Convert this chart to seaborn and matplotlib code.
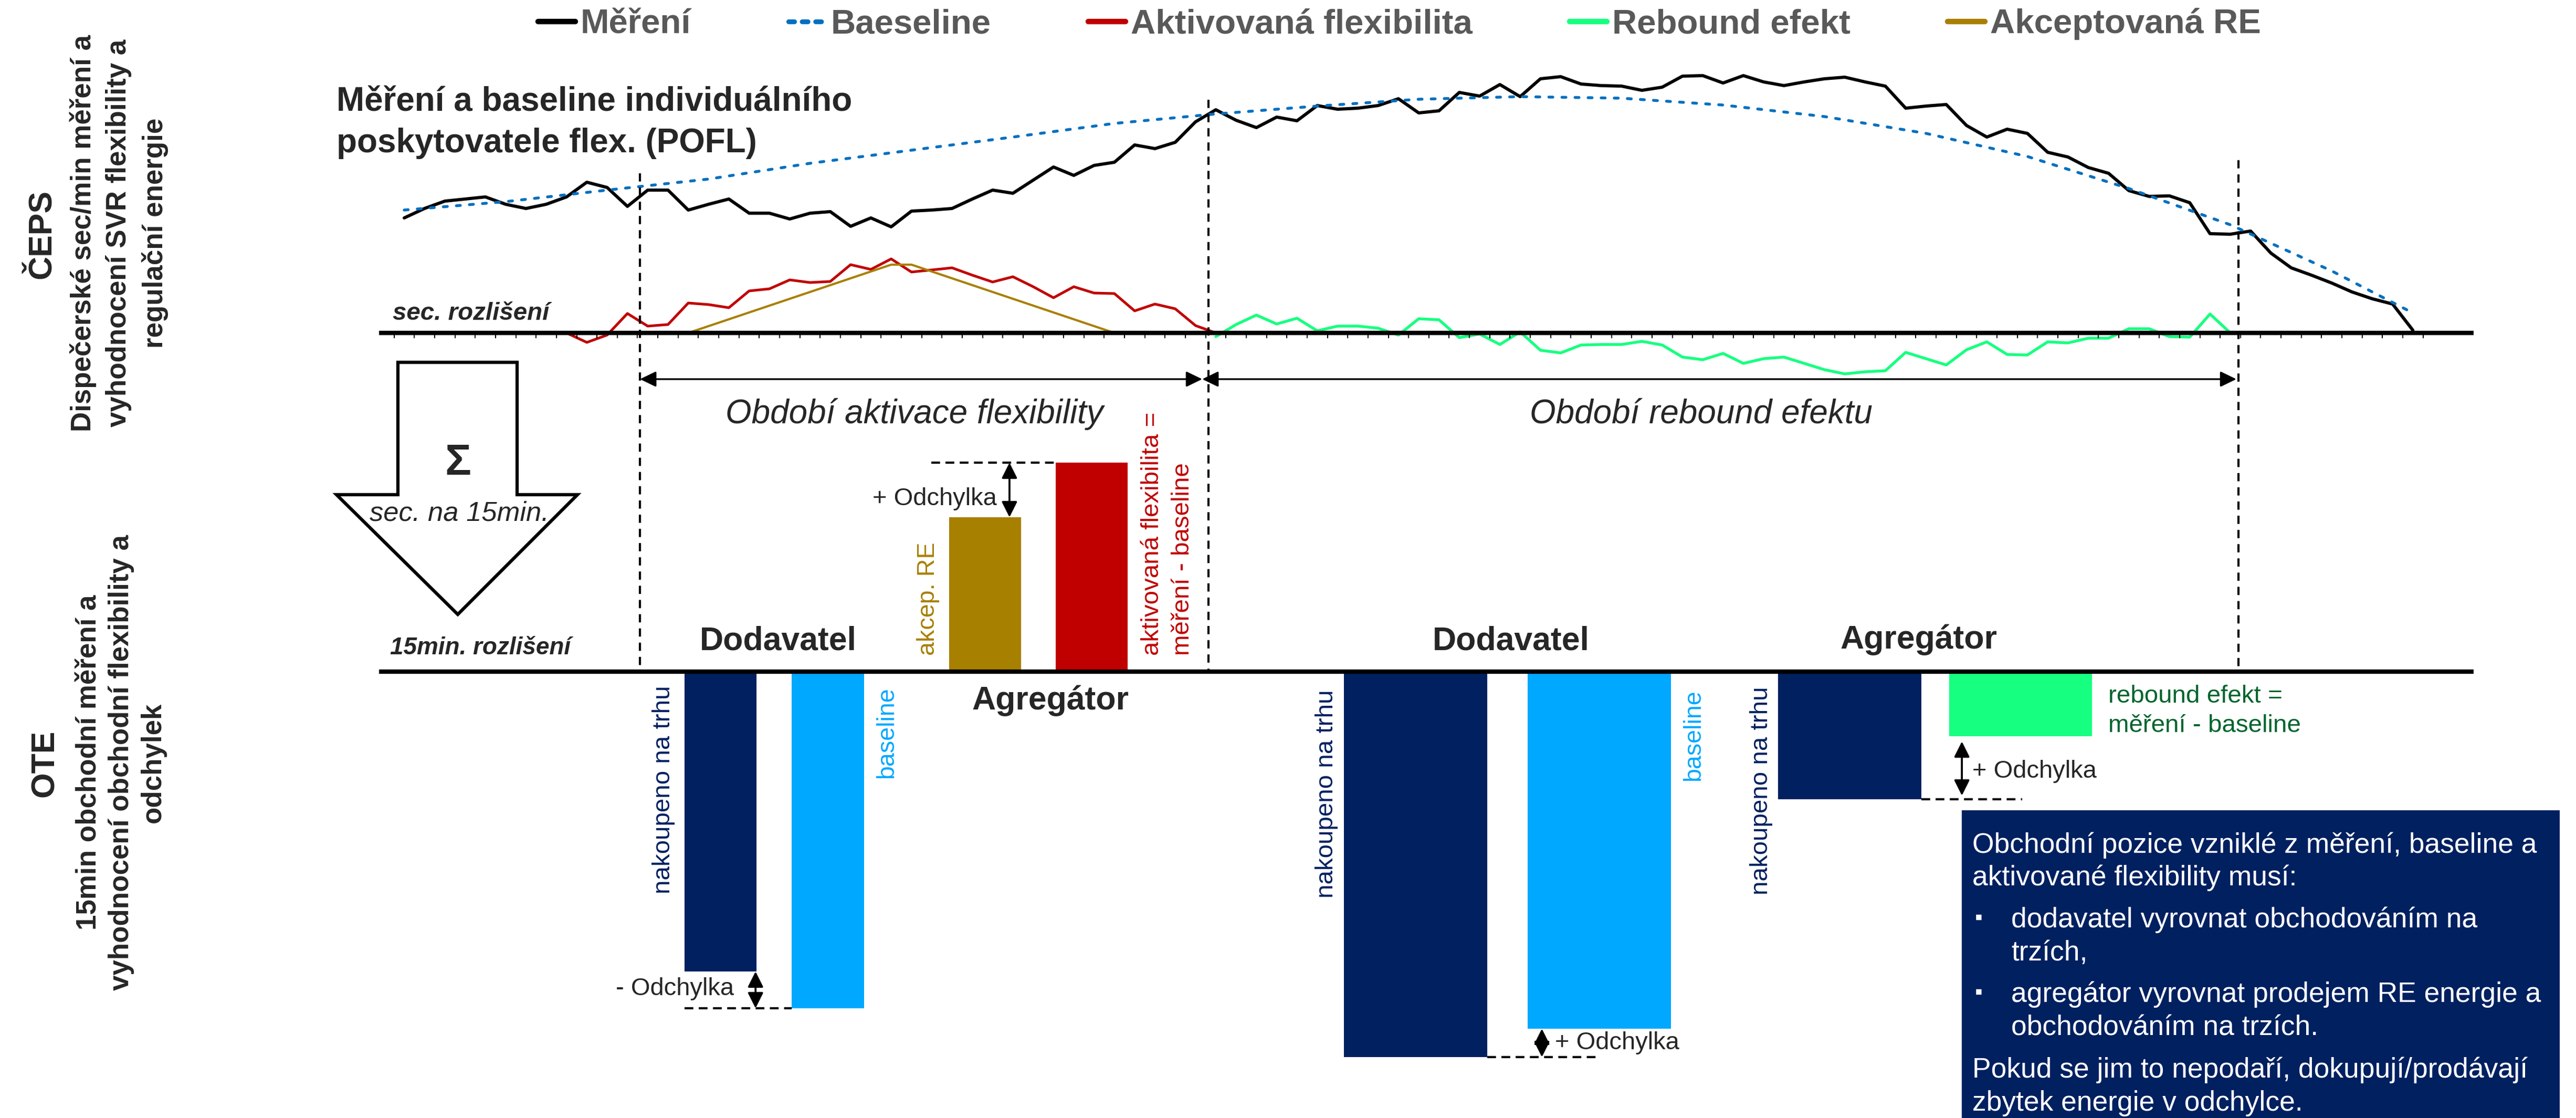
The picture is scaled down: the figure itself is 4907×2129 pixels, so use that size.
import numpy as np
import pandas as pd
import matplotlib
matplotlib.use('Agg')
import matplotlib.pyplot as plt
import matplotlib.patches as mpatches
from matplotlib.lines import Line2D
import seaborn as sns

sns.set_style('white')
plt.rcParams['font.family'] = ['Liberation Sans', 'DejaVu Sans']

## ============================== ##
## data
## ============================== ##

# second-resolution samples, index = sample number
t = np.arange(100)
mereni = [2.19, 2.37, 2.51, 2.55, 2.59, 2.45, 2.37, 2.45, 2.59, 2.87,
          2.77, 2.41, 2.72, 2.72, 2.34, 2.45, 2.55, 2.28, 2.28, 2.17,
          2.28, 2.31, 2.03, 2.19, 2.02, 2.32, 2.34, 2.37, 2.55, 2.72,
          2.66, 2.91, 3.16, 3.00, 3.19, 3.25, 3.58, 3.51, 3.63, 4.02,
          4.25, 4.05, 3.91, 4.11, 4.04, 4.33, 4.26, 4.28, 4.33, 4.46,
          4.19, 4.23, 4.58, 4.51, 4.73, 4.50, 4.84, 4.88, 4.74, 4.71,
          4.70, 4.62, 4.68, 4.89, 4.90, 4.76, 4.90, 4.78, 4.71, 4.78,
          4.84, 4.87, 4.78, 4.70, 4.28, 4.32, 4.35, 3.95, 3.73, 3.88,
          3.80, 3.44, 3.35, 3.15, 3.04, 2.71, 2.60, 2.61, 2.48, 1.89,
          1.88, 1.94, 1.52, 1.24, 1.10, 0.95, 0.78, 0.65, 0.55, 0.05]

baseline_t = [0, 5, 10, 15, 20, 25, 30, 35, 40, 45, 50, 55, 60, 65, 70, 75, 80, 85, 90, 95, 99]
baseline_v = [2.34, 2.50, 2.72, 2.93, 3.23, 3.48, 3.73, 3.99, 4.17, 4.32, 4.45,
              4.50, 4.47, 4.34, 4.12, 3.80, 3.36, 2.75, 2.06, 1.18, 0.38]

flex_t = np.arange(8, 41)
flex_v = [0.00, -0.18, -0.04, 0.37, 0.13, 0.16, 0.57, 0.54, 0.48, 0.80,
          0.84, 1.01, 0.96, 0.98, 1.30, 1.21, 1.41, 1.16, 1.20, 1.24,
          1.10, 0.97, 1.07, 0.88, 0.67, 0.88, 0.76, 0.75, 0.42, 0.55,
          0.46, 0.14, 0.00]

re_t = [14, 24, 25, 35]
re_v = [0.00, 1.30, 1.30, 0.00]

rebound_t = np.arange(40, 91)
rebound_v = [-0.07, 0.16, 0.34, 0.17, 0.28, 0.04, 0.13, 0.13, 0.09, -0.04,
             0.27, 0.25, -0.09, -0.02, -0.22, 0.02, -0.33, -0.38, -0.23, -0.22,
             -0.22, -0.16, -0.23, -0.46, -0.51, -0.39, -0.58, -0.49, -0.46, -0.58,
             -0.70, -0.78, -0.74, -0.72, -0.37, -0.49, -0.61, -0.32, -0.17, -0.41,
             -0.42, -0.17, -0.19, -0.10, -0.10, 0.08, 0.08, -0.07, -0.08, 0.36,
             0.00]

# period boundaries (in samples)
t_start, t_switch, t_end = 11.62, 39.64, 90.4

# 15min aggregates
bar_t = [15.59, 20.88, 28.62, 33.88, 49.84, 58.90, 71.24, 79.67]
bar_len = [3.55, 3.55, 3.55, 3.55, 7.05, 7.05, 7.05, 7.05]
bar_v = [-5.71, -6.41, 2.94, 3.98, -7.34, -6.80, -2.43, -1.23]

legend_labels = ['Měření', 'Baeseline', 'Aktivovaná flexibilita', 'Rebound efekt', 'Akceptovaná RE']

## ============================== ##

NAVY = '#002060'
LBLUE = '#00A8FF'
GOLD = '#A88000'
RED = '#C00000'
GREEN = '#17FF80'
BLUE = '#0070C0'
DGREEN = '#00642D'
GREY = '#595959'

W, H = 4907, 2129
DPI = 300
X0, DX = 770., 38.65      # pixel of sample 0, pixels per sample
Y_SEC, Y_15, SY = 634., 1279., 100.

def P(x, y):
	return (x / W, 1. - y / H)

fig = plt.figure(figsize=(W / DPI, H / DPI), dpi=DPI)

ax = fig.add_axes([0, 0, 1, 1])
axb = fig.add_axes([0, 0, 1, 1])

## ---- seconds resolution
sns.lineplot(x=t, y=mereni, ax=ax, color='black', lw=1.45, sort=False)
sns.lineplot(x=baseline_t, y=baseline_v, ax=ax, color=BLUE, lw=1.3,
		linestyle=(0, (1.4, 3.2)), dash_capstyle='round', sort=False)
sns.lineplot(x=flex_t, y=flex_v, ax=ax, color=RED, lw=1.2, sort=False)
sns.lineplot(x=re_t, y=re_v, ax=ax, color=GOLD, lw=1.0, sort=False)
sns.lineplot(x=rebound_t, y=rebound_v, ax=ax, color=GREEN, lw=1.3, sort=False)

ax.hlines(0, -1.24, 102.0, color='black', lw=2.0)
ax.vlines(np.arange(-0.5, 100, 1.), -0.1, 0, color='black', lw=0.5)

vdash = (0, (3.75, 2.75))
y_bottom = (Y_SEC - Y_15) / SY
for x0, ytop in [(t_start, 3.04), (t_switch, 4.44), (t_end, 3.29)]:
	ax.plot([x0, x0], [ytop, y_bottom], color='black', lw=1.0, linestyle=vdash)

harrow = dict(arrowstyle='<|-|>,head_length=0.31,head_width=0.15', color='black',
		lw=0.8, shrinkA=0, shrinkB=0, mutation_scale=20)
y_arr = (Y_SEC - 722) / SY
ax.annotate('', xy=(t_start, y_arr), xytext=(t_switch - 0.31, y_arr), arrowprops=harrow)
ax.annotate('', xy=(t_switch - 0.31, y_arr), xytext=(t_end - 0.1, y_arr), arrowprops=harrow)

## ---- 15min resolution
bar_colors = [NAVY, LBLUE, GOLD, RED, NAVY, LBLUE, NAVY, GREEN]
axb.bar(bar_t, bar_v, width=bar_len, color=bar_colors, linewidth=0)
axb.hlines(0, -1.24, 102.0, color='black', lw=2.0)

left = [c - w / 2. for c, w in zip(bar_t, bar_len)]
right = [c + w / 2. for c, w in zip(bar_t, bar_len)]
hdash = (0, (4, 2.5))
axb.plot([left[0], left[1]], [bar_v[1], bar_v[1]], color='black', lw=1.0, linestyle=hdash)
axb.plot([25.98, left[3]], [bar_v[3], bar_v[3]], color='black', lw=1.0, linestyle=hdash)
axb.plot([right[4], 58.86], [bar_v[4], bar_v[4]], color='black', lw=1.0, linestyle=hdash)
axb.plot([right[6], 79.74], [bar_v[6], bar_v[6]], color='black', lw=1.0, linestyle=hdash)

varrow = dict(arrowstyle='<|-|>,head_length=0.3,head_width=0.15', color='black',
		lw=0.9, shrinkA=0, shrinkB=0, mutation_scale=20)
axb.annotate('', xy=(right[0] - 0.05, bar_v[0]), xytext=(right[0] - 0.05, bar_v[1]), arrowprops=varrow)
axb.annotate('', xy=(29.83, bar_v[3]), xytext=(29.83, bar_v[2]), arrowprops=varrow)
axb.annotate('', xy=(56.07, bar_v[5]), xytext=(56.07, bar_v[4]), arrowprops=varrow)
axb.annotate('', xy=(76.77, bar_v[7] - 0.1), xytext=(76.77, bar_v[6] + 0.07), arrowprops=varrow)

for a, y0 in [(ax, Y_SEC), (axb, Y_15)]:
	a.set_xlim((0 - X0) / DX, (W - X0) / DX)
	a.set_ylim((y0 - H) / SY, y0 / SY)
	a.axis('off')

## ---- block arrow
arr_pts = [(758, 690), (985, 690), (985, 942), (1100, 942), (872, 1170), (641, 942), (758, 942)]
fig.patches.append(mpatches.Polygon([P(x, y) for x, y in arr_pts], closed=True, facecolor='white',
		edgecolor='black', lw=1.5, transform=fig.transFigure, figure=fig))

## ---- info box
x1, y1 = P(3737, 2129)
x2, y2 = P(4876, 1543)
fig.patches.append(mpatches.Rectangle((x1, y1), x2 - x1, y2 - y1, facecolor=NAVY, edgecolor='none',
		transform=fig.transFigure, figure=fig))

## ---- legend
handles = [Line2D([], [], color='black', lw=2.5),
	Line2D([], [], color=BLUE, lw=2.2, linestyle=(0, (1.2, 1.6)), dash_capstyle='round'),
	Line2D([], [], color=RED, lw=2.5),
	Line2D([], [], color=GREEN, lw=2.5),
	Line2D([], [], color=GOLD, lw=2.5)]
fig.legend(handles, legend_labels, loc='center', bbox_to_anchor=P(2666, 46), ncol=5, frameon=False,
		prop=dict(weight='bold', size=15.7), labelcolor=GREY, handlelength=1.08,
		handletextpad=0.15, columnspacing=2.84, borderpad=0, borderaxespad=0)

## ---- texts
def txt(x, y, s, **kw):
	kw.setdefault('va', 'baseline')
	fig.text(*P(x, y), s, **kw)

def vtxt(x, y, s, **kw):
	kw.setdefault('va', 'baseline')
	fig.text(*P(x, y), s, rotation=90, rotation_mode='anchor', **kw)

txt(641, 212, 'Měření a baseline individuálního', size=15.3, weight='bold')
txt(641, 290, 'poskytovatele flex. (POFL)', size=15.3, weight='bold')
txt(748, 609, 'sec. rozlišení', size=11.4, weight='bold', style='italic')
txt(743, 1246, '15min. rozlišení', size=11.0, weight='bold', style='italic')
txt(872, 904, 'Σ', size=20, weight='bold', ha='center')
txt(875, 991, 'sec. na 15min.', size=12.6, style='italic', ha='center')
txt(1742, 806, 'Období aktivace flexibility', size=15.3, style='italic', ha='center')
txt(3241, 806, 'Období rebound efektu', size=15.3, style='italic', ha='center')
txt(1482, 1237, 'Dodavatel', size=15, weight='bold', ha='center')
txt(2878, 1237, 'Dodavatel', size=15, weight='bold', ha='center')
txt(2001, 1351, 'Agregátor', size=15, weight='bold', ha='center')
txt(3655, 1235, 'Agregátor', size=15, weight='bold', ha='center')
txt(1899, 962, '+ Odchylka', size=11.3, ha='right')
txt(1398, 1895, '- Odchylka', size=11.3, ha='right')
txt(2962, 1998, '+ Odchylka', size=11.3, ha='left')
txt(3757, 1481, '+ Odchylka', size=11.3, ha='left')
txt(4016, 1338, 'rebound efekt =', size=11.4, color=DGREEN)
txt(4016, 1394, 'měření - baseline', size=11.4, color=DGREEN)

vtxt(1276, 1305, 'nakoupeno na trhu', size=11.4, color=NAVY, ha='right')
vtxt(1701, 1308, 'baseline', size=11.2, color=LBLUE, ha='right')
vtxt(1780, 1248, 'akcep. RE', size=11.2, color=GOLD, ha='left')
vtxt(2207, 1248, 'aktivovaná flexibilita =', size=11.4, color=RED, ha='left')
vtxt(2265, 1248, 'měření - baseline', size=11.4, color=RED, ha='left')
vtxt(2539, 1313, 'nakoupeno na trhu', size=11.4, color=NAVY, ha='right')
vtxt(3238, 1313, 'baseline', size=11.2, color=LBLUE, ha='right')
vtxt(3367, 1308, 'nakoupeno na trhu', size=11.4, color=NAVY, ha='right')

vtxt(97, 446, 'ČEPS', size=15, weight='bold', ha='center')
vtxt(173, 444, 'Dispečerské sec/min měření a', size=12.7, weight='bold', ha='center')
vtxt(240, 444, 'vyhodnocení SVR flexibility a', size=12.7, weight='bold', ha='center')
vtxt(310, 444, 'regulační energie', size=12.7, weight='bold', ha='center')
vtxt(102, 1454, 'OTE', size=15, weight='bold', ha='center')
vtxt(184, 1452, '15min obchodní měření a', size=12.7, weight='bold', ha='center')
vtxt(245, 1452, 'vyhodnocení obchodní flexibility a', size=12.7, weight='bold', ha='center')
vtxt(306, 1452, 'odchylek', size=12.7, weight='bold', ha='center')

box_lines = [(3757, 1624, 'Obchodní pozice vzniklé z měření, baseline a'),
	(3757, 1686, 'aktivované flexibility musí:'),
	(3831, 1766, 'dodavatel vyrovnat obchodováním na'),
	(3831, 1829, 'trzích,'),
	(3831, 1908, 'agregátor vyrovnat prodejem RE energie a'),
	(3831, 1972, 'obchodováním na trzích.'),
	(3757, 2052, 'Pokud se jim to nepodaří, dokupují/prodávají'),
	(3757, 2115, 'zbytek energie v odchylce.')]
for x, y, s in box_lines:
	txt(x, y, s, size=12.8, color='white')
for y in [1766, 1908]:
	txt(3762, y - 6, '▪', size=10, color='white')

fig.savefig('out.png', dpi=DPI)
